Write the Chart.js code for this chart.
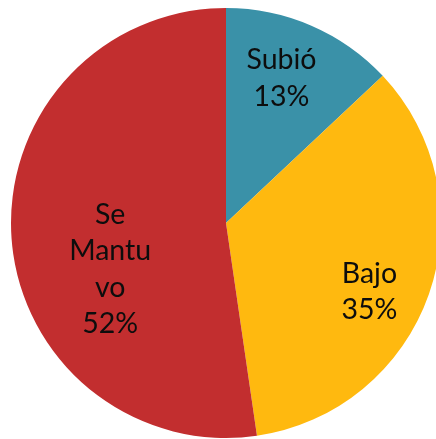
<!DOCTYPE html>
<html>
<head>
<meta charset="utf-8">
<script src="https://cdn.jsdelivr.net/npm/chart.js@4"></script>
<style>
html,body{margin:0;padding:0;background:#fff;overflow:hidden;width:436px;height:439px;}
#wrap{position:absolute;left:0;top:0;width:452px;height:446px;}
</style>
</head>
<body>
<div id="wrap"><canvas id="c"></canvas></div>
<script>
const categories = ['Subió', 'Bajo', 'Se Mantuvo'];
const labelLines = [['Subió'], ['Bajo'], ['Se', 'Mantu', 'vo']];
const shares = [13.0, 34.7, 52.3];
const colors = ['#3A91A8', '#FFB90F', '#C22E2F'];

// label placement relative to each slice (fraction of radius, angle shift in degrees)
const labelRadius = [0.72, 0.74, 0.58];
const labelAngleShift = [-2.4, 6.4, -17.6];

const labelPlugin = {
  id: 'sliceLabels',
  afterDatasetsDraw(chart) {
    const ctx = chart.ctx;
    const meta = chart.getDatasetMeta(0);
    ctx.save();
    ctx.font = '28.5px Lato, "Open Sans", sans-serif';
    ctx.fillStyle = '#0d0d0d';
    ctx.textAlign = 'center';
    ctx.textBaseline = 'middle';
    const lh = 36.5;
    meta.data.forEach((arc, i) => {
      const p = arc.getProps(['x', 'y', 'startAngle', 'endAngle', 'outerRadius'], true);
      const mid = (p.startAngle + p.endAngle) / 2 + labelAngleShift[i] * Math.PI / 180;
      const r = p.outerRadius * labelRadius[i];
      const cx = p.x + Math.cos(mid) * r;
      const cy = p.y + Math.sin(mid) * r;
      const lines = labelLines[i].concat([Math.round(shares[i]) + '%']);
      const top = cy - (lines.length - 1) * lh / 2;
      lines.forEach((t, j) => ctx.fillText(t, cx, top + j * lh));
    });
    ctx.restore();
  }
};

new Chart(document.getElementById('c'), {
  type: 'pie',
  data: {
    labels: categories,
    datasets: [{
      data: shares,
      backgroundColor: colors,
      borderWidth: 0
    }]
  },
  options: {
    responsive: true,
    maintainAspectRatio: false,
    animation: false,
    layout: { padding: { left: 11, right: 11, top: 8, bottom: 8 } },
    plugins: { legend: { display: false }, tooltip: { enabled: false } }
  },
  plugins: [labelPlugin]
});
</script>
</body>
</html>
